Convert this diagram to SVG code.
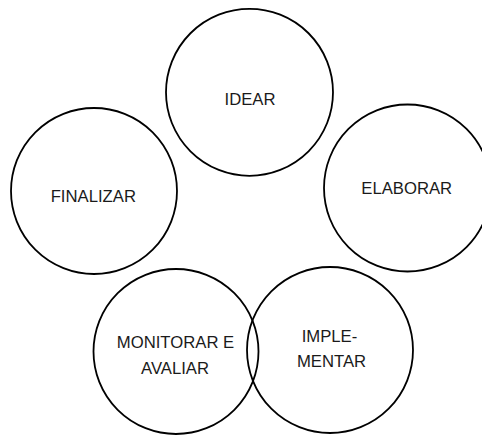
<svg xmlns="http://www.w3.org/2000/svg" width="482" height="437" viewBox="0 0 482 437">
  <style>
    .stage { fill: none; stroke: #000; stroke-width: 1.8; }
    .label { font-family: "Liberation Sans", Arial, sans-serif; font-size: 16.7px; fill: #1a1a1a; text-anchor: middle; }
  </style>
  <rect width="482" height="437" fill="#fff"/>
  <g id="idear">
    <circle class="stage" cx="249.5" cy="92.3" r="83.5"/>
    <text class="label" x="250" y="105">IDEAR</text>
  </g>
  <g id="elaborar">
    <circle class="stage" cx="407.5" cy="188" r="83.5"/>
    <text class="label" x="406.7" y="194">ELABORAR</text>
  </g>
  <g id="implementar">
    <circle class="stage" cx="330" cy="350" r="83"/>
    <text class="label" x="329.5" y="342.3">IMPLE-</text>
    <text class="label" x="331.5" y="367.3">MENTAR</text>
  </g>
  <g id="monitorar">
    <circle class="stage" cx="176" cy="351.5" r="82.5"/>
    <text class="label" x="175.5" y="348.3">MONITORAR E</text>
    <text class="label" x="175" y="374">AVALIAR</text>
  </g>
  <g id="finalizar">
    <circle class="stage" cx="94" cy="191" r="83"/>
    <text class="label" x="93.3" y="201.7">FINALIZAR</text>
  </g>
  <g id="connectors"></g>
</svg>
